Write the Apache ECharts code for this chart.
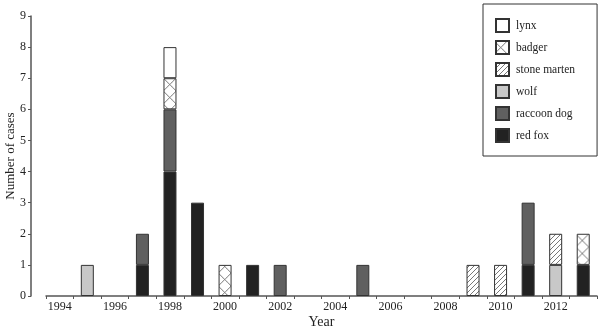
<!DOCTYPE html>
<html>
<head>
<meta charset="utf-8">
<style>
  html, body { margin: 0; padding: 0; background: #fff; }
  #chart { width: 600px; height: 329px; }
</style>
<script src="https://cdn.jsdelivr.net/npm/echarts@6/dist/echarts.min.js"></script>
</head>
<body>
<div id="chart"></div>
<script>
  // years on the x axis
  const years = ['1994', '1995', '1996', '1997', '1998', '1999', '2000', '2001', '2002', '2003',
    '2004', '2005', '2006', '2007', '2008', '2009', '2010', '2011', '2012', '2013'];

  // cases per species, one value per year
  const redFox      = [0, 0, 0, 1, 4, 3, 0, 1, 0, 0, 0, 0, 0, 0, 0, 0, 0, 1, 0, 1];
  const raccoonDog  = [0, 0, 0, 1, 2, 0, 0, 0, 1, 0, 0, 1, 0, 0, 0, 0, 0, 2, 0, 0];
  const wolf        = [0, 1, 0, 0, 0, 0, 0, 0, 0, 0, 0, 0, 0, 0, 0, 0, 0, 0, 1, 0];
  const stoneMarten = [0, 0, 0, 0, 0, 0, 0, 0, 0, 0, 0, 0, 0, 0, 0, 1, 1, 0, 1, 0];
  const badger      = [0, 0, 0, 0, 1, 0, 1, 0, 0, 0, 0, 0, 0, 0, 0, 0, 0, 0, 0, 1];
  const lynx        = [0, 0, 0, 0, 1, 0, 0, 0, 0, 0, 0, 0, 0, 0, 0, 0, 0, 0, 0, 0];

  const yTicks = [0, 9, 1]; // min, max, interval

  const font = '"Liberation Serif", "DejaVu Serif", serif';

  // hatch fills
  function makePattern(draw, w, h, extra) {
    const c = document.createElement('canvas');
    c.width = w;
    c.height = h;
    const ctx = c.getContext('2d');
    ctx.fillStyle = '#fff';
    ctx.fillRect(0, 0, w, h);
    ctx.strokeStyle = '#555';
    ctx.lineWidth = 0.8;
    draw(ctx, w, h);
    return Object.assign({ image: c, repeat: 'repeat' }, extra || {});
  }

  // crosses sized to the bar, two category bands per tile
  const crossFill = makePattern((ctx) => {
    ctx.beginPath();
    [0, 27.5].forEach(x0 => {
      ctx.moveTo(x0, 0); ctx.lineTo(x0 + 13, 13);
      ctx.moveTo(x0 + 13, 0); ctx.lineTo(x0, 13);
    });
    ctx.stroke();
  }, 55, 13, { x: 53.25, y: 78 });

  const diagFill = makePattern((ctx, s) => {
    ctx.beginPath();
    ctx.moveTo(0, s); ctx.lineTo(s, 0);
    ctx.moveTo(-1, 1); ctx.lineTo(1, -1);
    ctx.moveTo(s - 1, s + 1); ctx.lineTo(s + 1, s - 1);
    ctx.stroke();
  }, 5, 5);

  const toBars = arr => arr.map(v => (v ? v : '-'));

  function bar(name, data, fill) {
    return {
      name: name,
      type: 'bar',
      stack: 'cases',
      barWidth: 13,
      data: toBars(data),
      itemStyle: { color: fill, borderColor: '#333', borderWidth: 1 }
    };
  }

  const chart = echarts.init(document.getElementById('chart'));

  const option = {
    animation: false,
    textStyle: { fontFamily: font },
    grid: { left: 46, right: 3, top: 16, bottom: 33, outerBoundsMode: 'none' },
    legend: {
      orient: 'vertical',
      left: 483,
      top: 4,
      padding: [14, 22, 13, 12],
      icon: 'rect',
      itemWidth: 13,
      itemHeight: 13,
      itemGap: 7,
      borderColor: '#333',
      borderWidth: 1,
      textStyle: { fontFamily: font, fontSize: 11.5, lineHeight: 13, color: '#222', padding: [0, 0, 0, 2] },
      data: ['lynx', 'badger', 'stone marten', 'wolf', 'raccoon dog', 'red fox']
    },
    xAxis: {
      type: 'category',
      data: years,
      name: 'Year',
      nameLocation: 'middle',
      nameGap: 19,
      nameMoveOverlap: false,
      nameTextStyle: { fontFamily: font, fontSize: 14, color: '#222' },
      axisLine: { lineStyle: { color: '#555', width: 1.5 } },
      axisTick: { show: true, interval: 0, length: 3, lineStyle: { color: '#555' } },
      axisLabel: { interval: 1, margin: 5, fontFamily: font, fontSize: 12, color: '#222' }
    },
    yAxis: {
      type: 'value',
      min: yTicks[0],
      max: yTicks[1],
      interval: yTicks[2],
      offset: 15,
      name: 'Number of cases',
      nameLocation: 'middle',
      nameGap: 14,
      nameMoveOverlap: false,
      nameTextStyle: { fontFamily: font, fontSize: 13, color: '#222' },
      axisLine: { show: true, lineStyle: { color: '#555', width: 1.5 } },
      axisTick: { show: true, length: 3, lineStyle: { color: '#555' } },
      axisLabel: { margin: 5, fontFamily: font, fontSize: 12, color: '#222' },
      splitLine: { show: false }
    },
    series: [
      bar('red fox', redFox, '#222222'),
      bar('raccoon dog', raccoonDog, '#606060'),
      bar('wolf', wolf, '#c8c8c8'),
      bar('stone marten', stoneMarten, diagFill),
      bar('badger', badger, crossFill),
      bar('lynx', lynx, '#ffffff')
    ]
  };

  chart.setOption(option);
</script>
</body>
</html>
